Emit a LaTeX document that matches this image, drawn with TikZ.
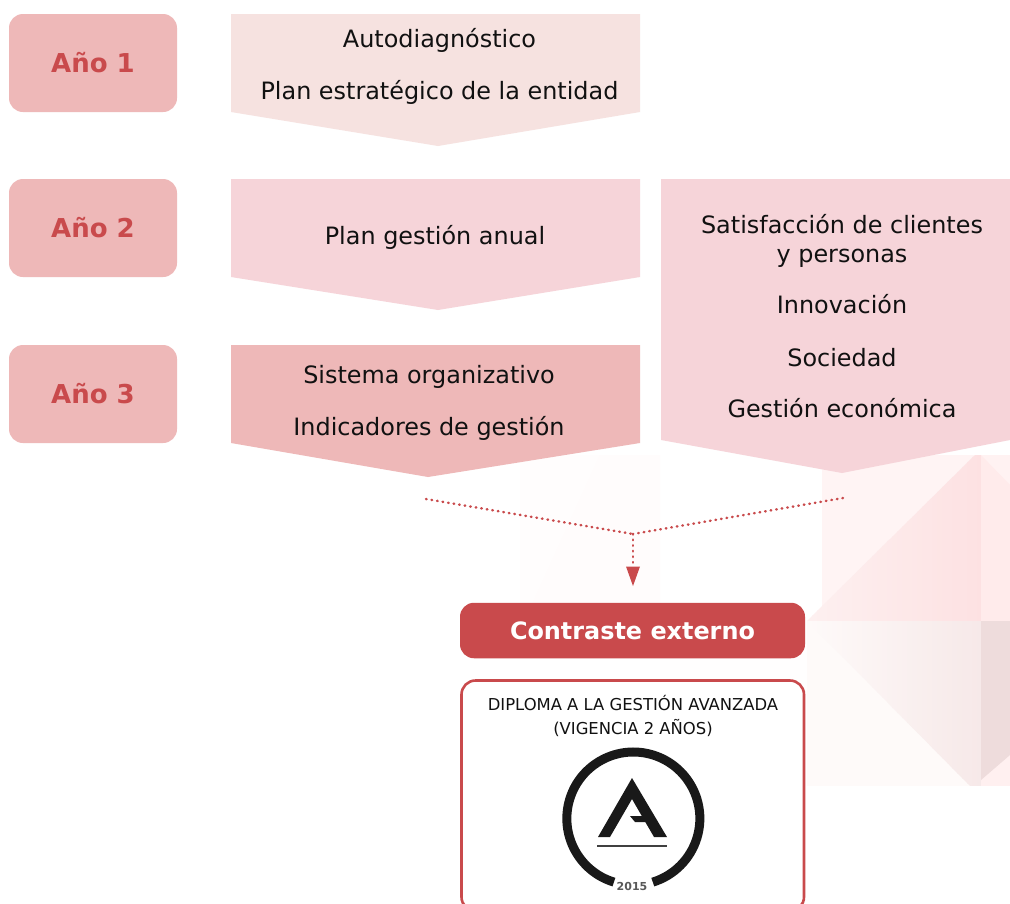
\documentclass[tikz,border=0pt]{standalone}
\usepackage{fontspec}
\setmainfont{DejaVu Sans}
\usetikzlibrary{calc}
\definecolor{redd}{HTML}{C94A4C}
\definecolor{yearc}{HTML}{EEB8B8}
\definecolor{pa}{HTML}{F6E2E0}
\definecolor{pb}{HTML}{F6D4D9}
\definecolor{txt}{HTML}{111111}
\definecolor{triA}{HTML}{FDF0F0}
\definecolor{triB}{HTML}{FDE1E2}
\definecolor{lowA}{HTML}{FEFAF9}
\definecolor{lowB}{HTML}{F6E8E8}
\definecolor{edgeA}{HTML}{EEDCDC}
\tikzset{
 yearbox/.style={fill=yearc,rounded corners=14,minimum width=168,minimum height=98,inner sep=0,font=\fontsize{26}{30}\selectfont\bfseries,text=redd,anchor=center},
 body/.style={font=\fontsize{23.9}{29}\selectfont,text=txt,inner sep=0,anchor=center,align=center},
 linkd/.style={redd,line width=2.5,line cap=round,dash pattern=on 0.6pt off 5pt},
 logoink/.style={black!90},
}
\begin{document}
\begin{tikzpicture}[x=1pt,y=-1pt]
\clip (0,0) rectangle (1010,903);
\fill[white] (0,0) rectangle (1010,903);
% faint background
\fill[red!0.6!white] (520,455) rectangle (660,620);
\fill[red!1.2!white] (600,455) -- (660,455) -- (660,620) -- (525,620) -- cycle;
\fill[red!0.5!white] (660,620) rectangle (822,786);
\fill[red!4.5!white] (822,455) rectangle (981,621);
\begin{scope}
\clip (975,455) -- (981,455) -- (981,621) -- (807,621) -- cycle;
\foreach \i in {0,...,35}{
  \pgfmathsetmacro{\m}{\i/35*100}
  \fill[triB!\m!triA] ({807+\i*5},455) rectangle ({812.5+\i*5},621);
}
\end{scope}
\fill[red!5!white] (981,455) rectangle (1010,621);
\fill[red!8!white] (981,455) -- (1010,485) -- (1010,621) -- (981,621) -- cycle;
\fill[lowA] (807,621) rectangle (981,786);
\begin{scope}
\clip (807,621) -- (981,621) -- (981,786) -- (970,786) -- cycle;
\foreach \i in {0,...,35}{
  \pgfmathsetmacro{\m}{\i/35*100}
  \fill[lowB!\m!lowA] ({807+\i*5},621) rectangle ({812.5+\i*5},786);
}
\end{scope}
\fill[red!6!white] (981,621) rectangle (1010,786);
\fill[edgeA] (981,621) -- (1010,621) -- (1010,755) -- (981,780) -- cycle;
% year boxes
\node[yearbox] (y1) at (93,63) {Año 1};
\node[yearbox] (y2) at (93,228) {Año 2};
\node[yearbox] (y3) at (93,394) {Año 3};
% pentagons
\fill[pa] (231,14) -- (640,14) -- (640,112) -- (438,146) -- (231,112) -- cycle;
\fill[pb] (231,179) -- (640,179) -- (640,277) -- (438,310) -- (231,277) -- cycle;
\fill[yearc] (231,345) -- (640,345) -- (640,443) -- (428,477) -- (231,443) -- cycle;
\fill[pb] (661,179) -- (1010,179) -- (1010,440) -- (842,473) -- (661,440) -- cycle;
\node[body] (t1) at (439.5,40.5) {Autodiagnóstico};
\node[body] (t2) at (439.5,92.5) {Plan estratégico de la entidad};
\node[body] (t3) at (435,237.5) {Plan gestión anual};
\node[body] (t4) at (429,376.5) {Sistema organizativo};
\node[body] (t5) at (429,428.5) {Indicadores de gestión};
\node[body] (t6) at (842,240.5) {Satisfacción de clientes\\[0pt]y personas};
\node[body] (t7) at (842,304.5) {Innovación};
\node[body] (t8) at (842,357.5) {Sociedad};
\node[body] (t9) at (842,408.5) {Gestión económica};
% connectors
\coordinate (ls) at (426,499);
\coordinate (rs) at (843,498);
\coordinate (j) at (633,534);
\node[fill=redd,rounded corners=14,minimum width=345,minimum height=55.5,inner sep=0,text=white,font=\fontsize{23.9}{29}\selectfont\bfseries] (ce) at (632.5,630.5) {Contraste externo};
\coordinate (tip) at (633,586);
\draw[linkd] (ls) -- (j);
\draw[linkd] (rs) -- (j);
\draw[linkd] (j) -- ($(tip)+(0,-20)$);
\fill[redd] (tip) -- ($(tip)+(-7,-19.5)$) -- ($(tip)+(7,-19.5)$) -- cycle;
% diploma box
\draw[redd,line width=2.6,fill=white,rounded corners=14] (461.5,680.5) rectangle (804,911);
\node[font=\fontsize{16.4}{24}\selectfont,text=txt,align=center,inner sep=0] (dt) at (633,715.5) {DIPLOMA A LA GESTIÓN AVANZADA\\(VIGENCIA 2 AÑOS)};
% logo
\draw[logoink,line width=9] (613.9,882.1) arc[start angle=107,end angle=433,radius=66.5];
\fill[logoink] (632,778) -- (667,837) -- (654,837) -- (645.3,822) -- (635,822) -- (630,816) -- (641.8,816) -- (632,799) -- (610,837) -- (598,837) -- cycle;
\draw[black!75,line width=1.8] (597,846) -- (667,846);
\node[font=\fontsize{11}{12}\selectfont\bfseries,text=black!65,inner sep=0] (yr) at (632,886.5) {2015};
\end{tikzpicture}
\end{document}
